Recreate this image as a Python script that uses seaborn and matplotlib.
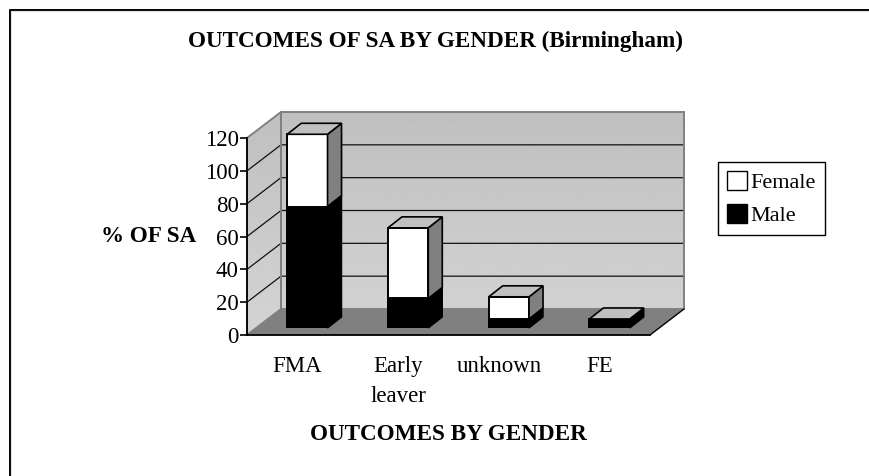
import numpy as np
import pandas as pd
import seaborn as sns
import matplotlib.pyplot as plt
from matplotlib.patches import Patch, Polygon

categories = ["FMA", "Early\nleaver", "unknown", "FE"]
male = [74, 18, 5.5, 5.5]
female = [44, 43, 13.5, 0]
y_ticks = [0, 20, 40, 60, 80, 100, 120]

W, H = 869, 476
sns.set_style("white")
plt.rcParams["font.family"] = ["Liberation Serif", "DejaVu Serif"]
plt.rcParams["text.color"] = "black"
plt.rcParams["xtick.labelcolor"] = "black"
plt.rcParams["ytick.labelcolor"] = "black"

df = pd.DataFrame({"outcome": categories, "male": male, "female": female})
df["total"] = df["male"] + df["female"]


def box(left, right, bottom, top):
    # pixel box to figure fractions
    return [left / W, 1 - bottom / H, (right - left) / W, (bottom - top) / H]


fig = plt.figure(figsize=(W / 100, H / 100), dpi=100, facecolor="white")

# pixel overlay for the frame and the 3d walls
bg = fig.add_axes([0, 0, 1, 1], zorder=0)
bg.set_xlim(0, W)
bg.set_ylim(H, 0)
bg.axis("off")

bg.plot([9.5, 9.5, W], [H, 9.5, 9.5], color="black", lw=1.4)
bg.plot([11, 11, W], [H, 11, 11], color="#e4e4e4", lw=0.8)

x0, x1, dx = 247, 650, 34
y0, y1, dy = 335, 138, 26
per_unit = (y0 - y1) / 120

grad = np.linspace(0, 1, 200).reshape(-1, 1)
walls = [
    [(x0, y0), (x0 + dx, y0 - dy), (x0 + dx, y1 - dy), (x0, y1)],
    [(x0 + dx, y0 - dy), (x1 + dx, y0 - dy), (x1 + dx, y1 - dy), (x0 + dx, y1 - dy)],
]
for pts in walls:
    im = bg.imshow(grad, extent=[x0, x1 + dx, y0, y1 - dy], cmap="gray",
                   vmin=-9.375, vmax=3.125, aspect="auto", zorder=1)
    im.set_clip_path(Polygon(pts, transform=bg.transData))
bg.set_xlim(0, W)
bg.set_ylim(H, 0)

bg.add_patch(Polygon([(x0, y0), (x0 + dx, y0 - dy), (x1 + dx, y0 - dy), (x1, y0)],
                     facecolor="#808080", edgecolor="none", zorder=2))
for v in y_ticks[1:-1]:
    yy = y0 - v * per_unit
    bg.plot([x0, x0 + dx, x1 + dx], [yy, yy - dy, yy - dy], color="#111111", lw=0.9, zorder=3)
for pts in walls:
    bg.add_patch(Polygon(pts, fill=False, edgecolor="#808080", lw=1.4, zorder=3))
bg.plot([x1, x1 + dx], [y0, y0 - dy], color="black", lw=1, zorder=4)

# real axis, categories sit between the ticks
ax = fig.add_axes(box(x0, x1, y0, y1), zorder=1)
ax.patch.set_visible(False)
ax.set_xlim(-0.5, 3.5)
ax.set_ylim(0, 120)
ax.set_yticks(y_ticks)
ax.set_xticks(np.arange(-0.5, 4, 1))
ax.set_xticklabels([])
ax.set_xticks(range(4), categories, minor=True)
ax.tick_params(axis="x", which="minor", length=0, labelsize=16.5, pad=15)
ax.tick_params(axis="x", which="major", length=5, width=1.2, color="black")
ax.tick_params(axis="y", length=5, width=1.2, color="black", labelsize=16.5, pad=1, left=True)
for t in ax.get_xticklabels(minor=True):
    t.set_linespacing(1.6)
sns.despine(ax=ax)
for s in ["left", "bottom"]:
    ax.spines[s].set_linewidth(1.3)
    ax.spines[s].set_color("black")

# bars sit on the floor, so their axes are nudged right and up from the real axis
off_x, off_y = 10, 7
bars = fig.add_axes(box(x0 + off_x, x1 + off_x, y0 - off_y, y1 - off_y), zorder=2)
sns.barplot(data=df, x="outcome", y="total", color="white", saturation=1, width=0.4,
            edgecolor="black", linewidth=1.4, ax=bars)
sns.barplot(data=df, x="outcome", y="male", color="black", saturation=1, width=0.4,
            edgecolor="black", linewidth=1.4, ax=bars)
bars.set_xlim(-0.5, 3.5)
bars.set_ylim(0, 120)
bars.axis("off")

ddx = 14 / ((x1 - x0) / 4)
ddy = 11 / per_unit
for i, (m, t) in enumerate(zip(df["male"], df["total"])):
    p = bars.patches[i]
    r = p.get_x() + p.get_width()
    l = p.get_x()
    bars.add_patch(Polygon([(r, 0), (r + ddx, ddy), (r + ddx, m + ddy), (r, m)],
                           facecolor="black", edgecolor="black", lw=1, clip_on=False, zorder=1))
    if t > m:
        bars.add_patch(Polygon([(r, m), (r + ddx, m + ddy), (r + ddx, t + ddy), (r, t)],
                               facecolor="#808080", edgecolor="black", lw=1.2, clip_on=False, zorder=1))
    bars.add_patch(Polygon([(l, t), (l + ddx, t + ddy), (r + ddx, t + ddy), (r, t)],
                           facecolor="#c0c0c0", edgecolor="black", lw=1.2, clip_on=False, zorder=1))

fig.text(436 / W, 1 - 41 / H, "OUTCOMES OF SA BY GENDER (Birmingham)", ha="center", va="center",
         fontsize=16.7, fontweight="bold")
fig.text(149 / W, 1 - 237 / H, "% OF SA", ha="center", va="center", fontsize=16.7, fontweight="bold")
fig.text(448 / W, 1 - 434 / H, "OUTCOMES BY GENDER", ha="center", va="center", fontsize=16.7,
         fontweight="bold")

handles = [Patch(facecolor="white", edgecolor="black", label="Female"),
           Patch(facecolor="black", edgecolor="black", label="Male")]
leg = fig.legend(handles=handles, loc="center", bbox_to_anchor=(771.5 / W, 1 - 198.5 / H),
                 fontsize=16, frameon=True, fancybox=False, edgecolor="black", framealpha=1,
                 handlelength=0.9, handleheight=0.9, handletextpad=0.15, labelspacing=0.5,
                 borderpad=0.4, borderaxespad=0)
leg.get_frame().set_linewidth(1)

fig.savefig("out.png", dpi=100)
